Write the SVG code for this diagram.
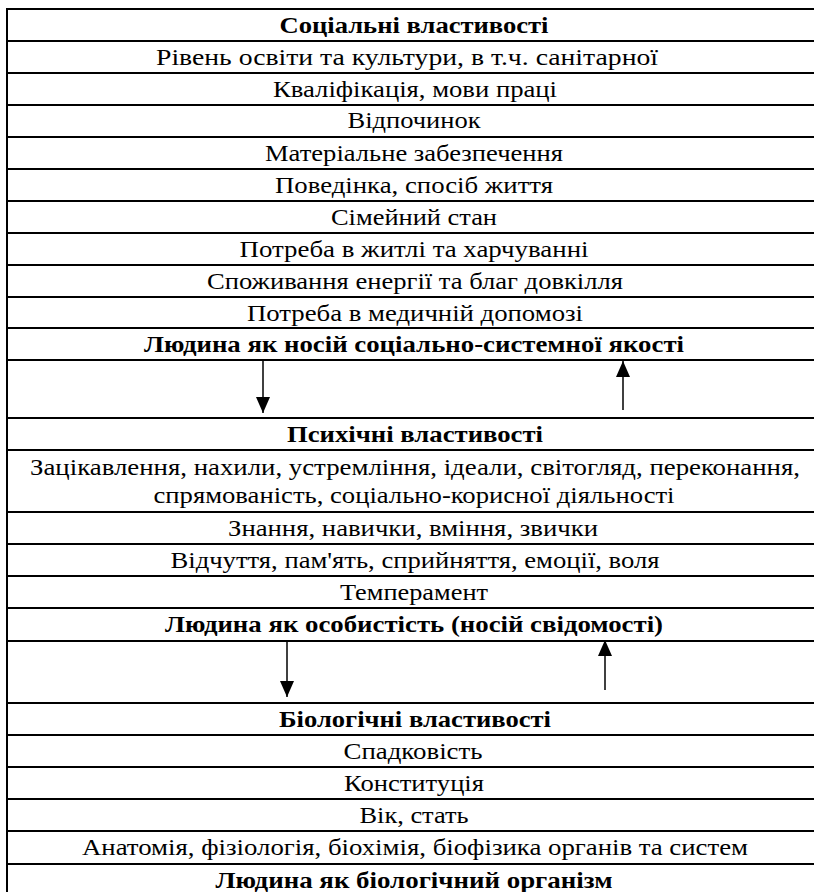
<svg xmlns="http://www.w3.org/2000/svg" width="814" height="892" viewBox="0 0 814 892">
<defs>
<style>
.t{font-family:"Liberation Serif","Times New Roman",serif;font-size:24px;fill:#000;text-anchor:middle}
.b{font-weight:bold}
.ln{stroke:#000;stroke-width:2;fill:none}
.ar{stroke:#000;stroke-width:1.5;fill:none}
</style>
<marker id="ah" viewBox="0 0 16 14" refX="16" refY="7" markerWidth="16" markerHeight="14" markerUnits="userSpaceOnUse" orient="auto">
<path d="M0,0 L16,7 L0,14 Z" fill="#000"/>
</marker>
</defs>
<rect x="0" y="0" width="814" height="892" fill="#fff"/>
<g id="grid" class="ln">
<line x1="7" y1="8" x2="7" y2="892"/>
<line x1="6" y1="9" x2="814" y2="9"/>
<line x1="6" y1="41" x2="814" y2="41"/>
<line x1="6" y1="73" x2="814" y2="73"/>
<line x1="6" y1="105" x2="814" y2="105"/>
<line x1="6" y1="137" x2="814" y2="137"/>
<line x1="6" y1="169" x2="814" y2="169"/>
<line x1="6" y1="201" x2="814" y2="201"/>
<line x1="6" y1="233" x2="814" y2="233"/>
<line x1="6" y1="265" x2="814" y2="265"/>
<line x1="6" y1="297" x2="814" y2="297"/>
<line x1="6" y1="328" x2="814" y2="328"/>
<line x1="6" y1="360" x2="814" y2="360"/>
<line x1="6" y1="418" x2="814" y2="418"/>
<line x1="6" y1="450" x2="814" y2="450"/>
<line x1="6" y1="512" x2="814" y2="512"/>
<line x1="6" y1="544" x2="814" y2="544"/>
<line x1="6" y1="576" x2="814" y2="576"/>
<line x1="6" y1="608" x2="814" y2="608"/>
<line x1="6" y1="641" x2="814" y2="641"/>
<line x1="6" y1="703" x2="814" y2="703"/>
<line x1="6" y1="735" x2="814" y2="735"/>
<line x1="6" y1="767" x2="814" y2="767"/>
<line x1="6" y1="799" x2="814" y2="799"/>
<line x1="6" y1="831" x2="814" y2="831"/>
<line x1="6" y1="864" x2="814" y2="864"/>
</g>
<g id="social">
<text class="t b" x="414" y="33" textLength="269" lengthAdjust="spacingAndGlyphs">Соціальні властивості</text>
<text class="t" x="407" y="65" textLength="502" lengthAdjust="spacingAndGlyphs">Рівень освіти та культури, в т.ч. санітарної</text>
<text class="t" x="415" y="97" textLength="284" lengthAdjust="spacingAndGlyphs">Кваліфікація, мови праці</text>
<text class="t" x="414" y="128" textLength="133" lengthAdjust="spacingAndGlyphs">Відпочинок</text>
<text class="t" x="414" y="161" textLength="298" lengthAdjust="spacingAndGlyphs">Матеріальне забезпечення</text>
<text class="t" x="414" y="193" textLength="278" lengthAdjust="spacingAndGlyphs">Поведінка, спосіб життя</text>
<text class="t" x="414" y="225" textLength="166" lengthAdjust="spacingAndGlyphs">Сімейний стан</text>
<text class="t" x="414" y="257" textLength="349" lengthAdjust="spacingAndGlyphs">Потреба в житлі та харчуванні</text>
<text class="t" x="415" y="289" textLength="416" lengthAdjust="spacingAndGlyphs">Споживання енергії та благ довкілля</text>
<text class="t" x="415" y="321" textLength="336" lengthAdjust="spacingAndGlyphs">Потреба в медичній допомозі</text>
<text class="t b" x="414" y="352" textLength="540" lengthAdjust="spacingAndGlyphs">Людина як носій соціально-системної якості</text>
</g>
<g id="psychic">
<text class="t b" x="415" y="442" textLength="256" lengthAdjust="spacingAndGlyphs">Психічні властивості</text>
<text class="t" x="415" y="475" textLength="770" lengthAdjust="spacingAndGlyphs">Зацікавлення, нахили, устремління, ідеали, світогляд, переконання,</text>
<text class="t" x="414" y="503" textLength="521" lengthAdjust="spacingAndGlyphs">спрямованість, соціально-корисної діяльності</text>
<text class="t" x="413" y="536" textLength="370" lengthAdjust="spacingAndGlyphs">Знання, навички, вміння, звички</text>
<text class="t" x="415" y="568" textLength="489" lengthAdjust="spacingAndGlyphs">Відчуття, пам'ять, сприйняття, емоції, воля</text>
<text class="t" x="414" y="600" textLength="148" lengthAdjust="spacingAndGlyphs">Темперамент</text>
<text class="t b" x="414" y="632" textLength="498" lengthAdjust="spacingAndGlyphs">Людина як особистість (носій свідомості)</text>
</g>
<g id="biological">
<text class="t b" x="415" y="727" textLength="272" lengthAdjust="spacingAndGlyphs">Біологічні властивості</text>
<text class="t" x="413" y="759" textLength="139" lengthAdjust="spacingAndGlyphs">Спадковість</text>
<text class="t" x="414" y="791" textLength="140" lengthAdjust="spacingAndGlyphs">Конституція</text>
<text class="t" x="414" y="823" textLength="109" lengthAdjust="spacingAndGlyphs">Вік, стать</text>
<text class="t" x="415" y="855" textLength="666" lengthAdjust="spacingAndGlyphs">Анатомія, фізіологія, біохімія, біофізика органів та систем</text>
<text class="t b" x="414" y="888" textLength="397" lengthAdjust="spacingAndGlyphs">Людина як біологічний організм</text>
</g>
<g id="connectors" class="ar">
<line x1="263" y1="361" x2="263" y2="413" marker-end="url(#ah)"/>
<line x1="623" y1="410" x2="623" y2="361" marker-end="url(#ah)"/>
<line x1="287" y1="642" x2="287" y2="697" marker-end="url(#ah)"/>
<line x1="605" y1="690" x2="605" y2="640" marker-end="url(#ah)"/>
</g>
</svg>
